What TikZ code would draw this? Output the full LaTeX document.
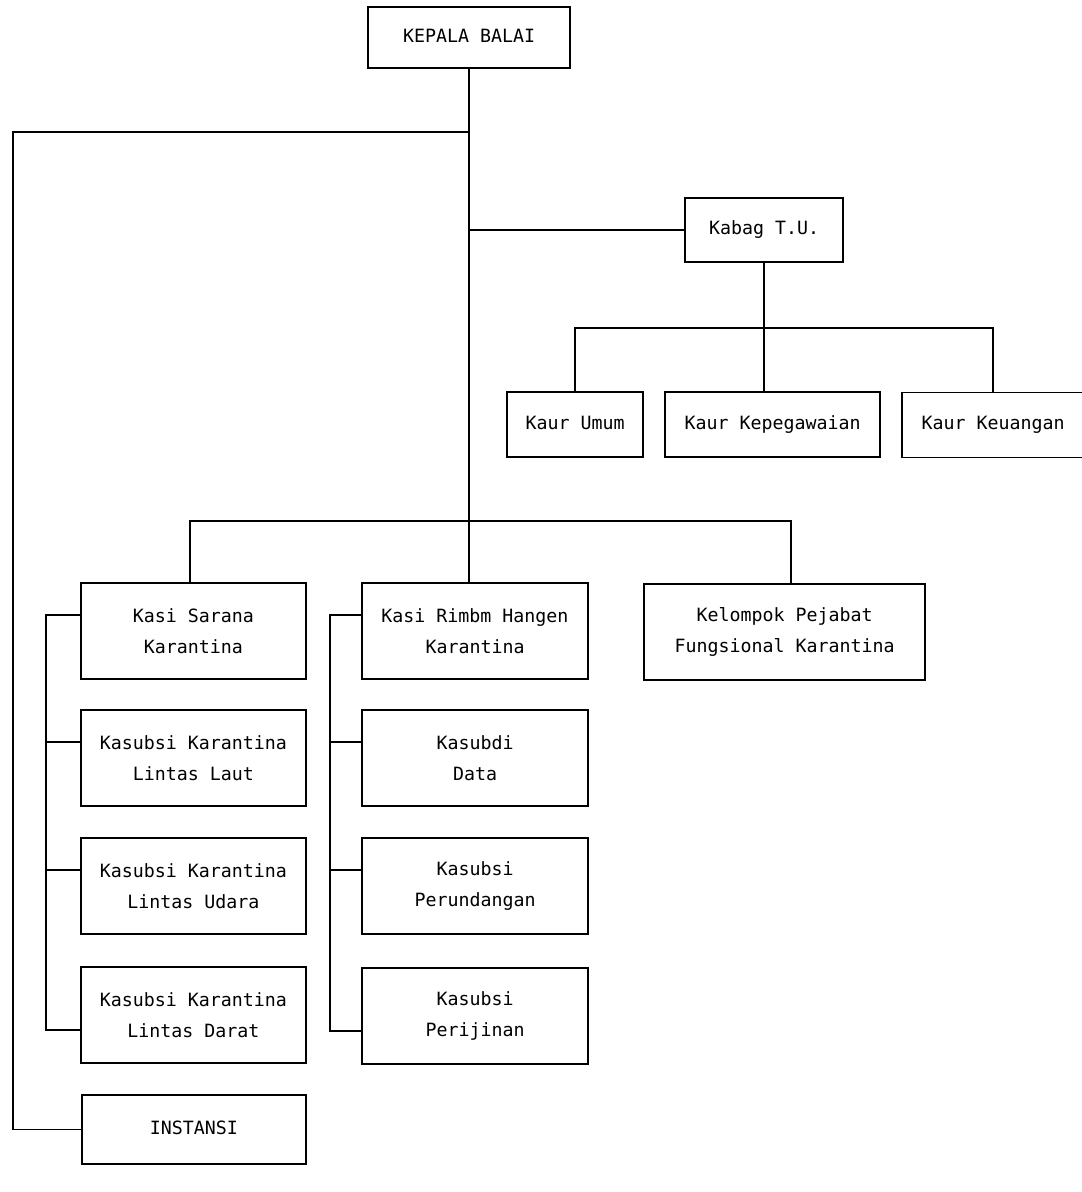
\documentclass[tikz,border=0pt]{standalone}
\usepackage{fontspec}
\setmonofont{DejaVu Sans Mono}
\usetikzlibrary{positioning}

\begin{document}
\begin{tikzpicture}[x=0.02cm, y=-0.02cm, line width=1.1pt]
		
		\tikzstyle{box}=[draw, line width=1.1pt, align=center, inner sep=0pt,
		font=\ttfamily\fontsize{10.4}{17.6}\selectfont]
		\tikzstyle{tall}=[box, minimum width=4.5cm, minimum height=1.92cm]
		\tikzstyle{flat}=[box, minimum height=1.3cm, text height=1.6ex, text depth=0.3ex]
		
		\useasboundingbox (0,0) rectangle (1081,1192);
		
		% Head and TU
		\node[flat, minimum width=4.04cm, minimum height=1.22cm] (kepala) at (469,37.5) {KEPALA BALAI};
		\node[flat, minimum width=3.16cm, minimum height=1.28cm] (kabag) at (764,230) {Kabag T.U.};
		\node[flat, minimum width=2.72cm] (umum) at (575,424.5) {Kaur Umum};
		\node[flat, minimum width=4.3cm] (kepeg) at (772.5,424.5) {Kaur Kepegawaian};
		\node[flat, minimum width=3.64cm] (keu) at (993,425) {Kaur Keuangan};
		
		% Sections
		\node[tall] (sarana) at (193.5,631) {Kasi Sarana\\Karantina};
		\node[tall, minimum width=4.52cm] (rimbm) at (475,631) {Kasi Rimbm Hangen\\Karantina};
		\node[tall, minimum width=5.62cm] (kelompok) at (784.5,632) {Kelompok Pejabat\\Fungsional Karantina};
		
		\node[tall] (laut) at (193.5,758) {Kasubsi Karantina\\Lintas Laut};
		\node[tall] (udara) at (193.5,886) {Kasubsi Karantina\\Lintas Udara};
		\node[tall] (darat) at (193.5,1015) {Kasubsi Karantina\\Lintas Darat};
		
		\node[tall, minimum width=4.52cm] (data) at (475,758) {Kasubdi\\Data};
		\node[tall, minimum width=4.52cm] (perund) at (475,886) {Kasubsi\\Perundangan};
		\node[tall, minimum width=4.52cm] (perij) at (475,1016) {Kasubsi\\Perijinan};
		
		\node[flat, minimum width=4.48cm, minimum height=1.38cm] (instansi) at (194,1129.5) {INSTANSI};
		
		% Lines
		\coordinate (lf) at (13,132);
		\coordinate (bus) at (470,521);
		\coordinate (kbus) at (764,328);
		
		\draw (kepala.south) -- (kepala.south |- rimbm.north);
		\draw (kepala.south |- lf) -- (lf) |- (instansi.west);
		\draw (kepala.south |- kabag.west) -- (kabag.west);
		
		\draw (kabag.south) -- (kabag.south |- kepeg.north);
		\draw (umum.north) |- (kbus) -| (keu.north);
		
		\draw ([xshift=-0.07cm]sarana.north) |- (bus) -| ([xshift=0.13cm]kelompok.north);
		
		\draw ([yshift=0.32cm]sarana.west) -- ++(-34,0) |- ([yshift=-0.3cm]darat.west);
		\draw ([yshift=0.32cm]laut.west) -- ++(-34,0);
		\draw ([yshift=0.32cm]udara.west) -- ++(-34,0);
		
		\draw ([yshift=0.32cm]rimbm.west) -- ++(-31,0) |- ([yshift=-0.3cm]perij.west);
		\draw ([yshift=0.32cm]data.west) -- ++(-31,0);
		\draw ([yshift=0.32cm]perund.west) -- ++(-31,0);
		
		\end{tikzpicture}
\end{document}
